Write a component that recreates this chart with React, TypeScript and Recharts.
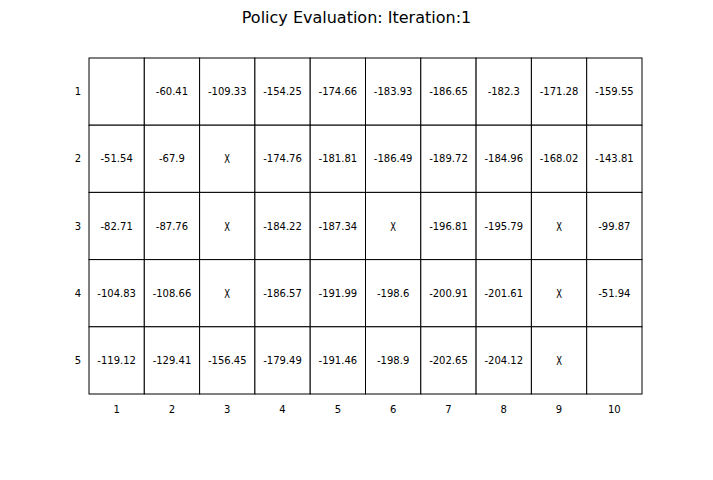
import React from 'react';
import { ScatterChart, Scatter, XAxis, YAxis } from 'recharts';

const columns = [1, 2, 3, 4, 5, 6, 7, 8, 9, 10];
const rows = [1, 2, 3, 4, 5];
// cell labels, row by row ('' = empty cell, 'X' = wall)
const row1 = ['', '-60.41', '-109.33', '-154.25', '-174.66', '-183.93', '-186.65', '-182.3', '-171.28', '-159.55'];
const row2 = ['-51.54', '-67.9', 'X', '-174.76', '-181.81', '-186.49', '-189.72', '-184.96', '-168.02', '-143.81'];
const row3 = ['-82.71', '-87.76', 'X', '-184.22', '-187.34', 'X', '-196.81', '-195.79', 'X', '-99.87'];
const row4 = ['-104.83', '-108.66', 'X', '-186.57', '-191.99', '-198.6', '-200.91', '-201.61', 'X', '-51.94'];
const row5 = ['-119.12', '-129.41', '-156.45', '-179.49', '-191.46', '-198.9', '-202.65', '-204.12', 'X', ''];
const grid = [row1, row2, row3, row4, row5];

const cells = grid.flatMap((r, i) =>
  r.map((label, j) => ({ x: columns[j], y: rows[i], label }))
);

const W = 713;
const H = 480;
const margin = { top: 58, right: 71, left: 69, bottom: 56 };
const yAxisWidth = 20;
const xAxisHeight = 30;
const cellW = (W - margin.left - margin.right - yAxisWidth) / columns.length;
const cellH = (H - margin.top - margin.bottom - xAxisHeight) / rows.length;

const Cell = (props: any) => {
  const { cx, cy, payload } = props;
  const isWall = payload.label === 'X';
  return (
    <g>
      <rect x={cx - cellW / 2} y={cy - cellH / 2} width={cellW} height={cellH} fill="#fff" stroke="#000" strokeWidth={1} />
      <text x={cx} y={cy} textAnchor="middle" dominantBaseline="central" fontSize={isWall ? 12 : 10}
        transform={isWall ? `translate(${cx},0) scale(0.7,1) translate(${-cx},0)` : undefined}>
        {payload.label}
      </text>
    </g>
  );
};

export default function App() {
  return (
    <div style={{ position: 'absolute', left: 0, top: 0, width: W, height: H, background: '#fff', fontFamily: 'DejaVu Sans' }}>
      <div style={{ position: 'absolute', top: 8, width: W, textAlign: 'center', fontSize: 16 }}>
        Policy Evaluation: Iteration:1
      </div>
      <ScatterChart width={W} height={H} margin={margin}>
        <XAxis type="number" dataKey="x" domain={[0.5, 10.5]} ticks={columns} axisLine={false} tickLine={false}
          height={xAxisHeight} tick={{ fontSize: 10, fill: '#000' }} tickMargin={6} interval={0} />
        <YAxis type="number" dataKey="y" domain={[0.5, 5.5]} ticks={rows} reversed axisLine={false} tickLine={false}
          width={yAxisWidth} tick={{ fontSize: 10, fill: '#000' }} interval={0} />
        <Scatter data={cells} shape={<Cell />} isAnimationActive={false} />
      </ScatterChart>
    </div>
  );
}
